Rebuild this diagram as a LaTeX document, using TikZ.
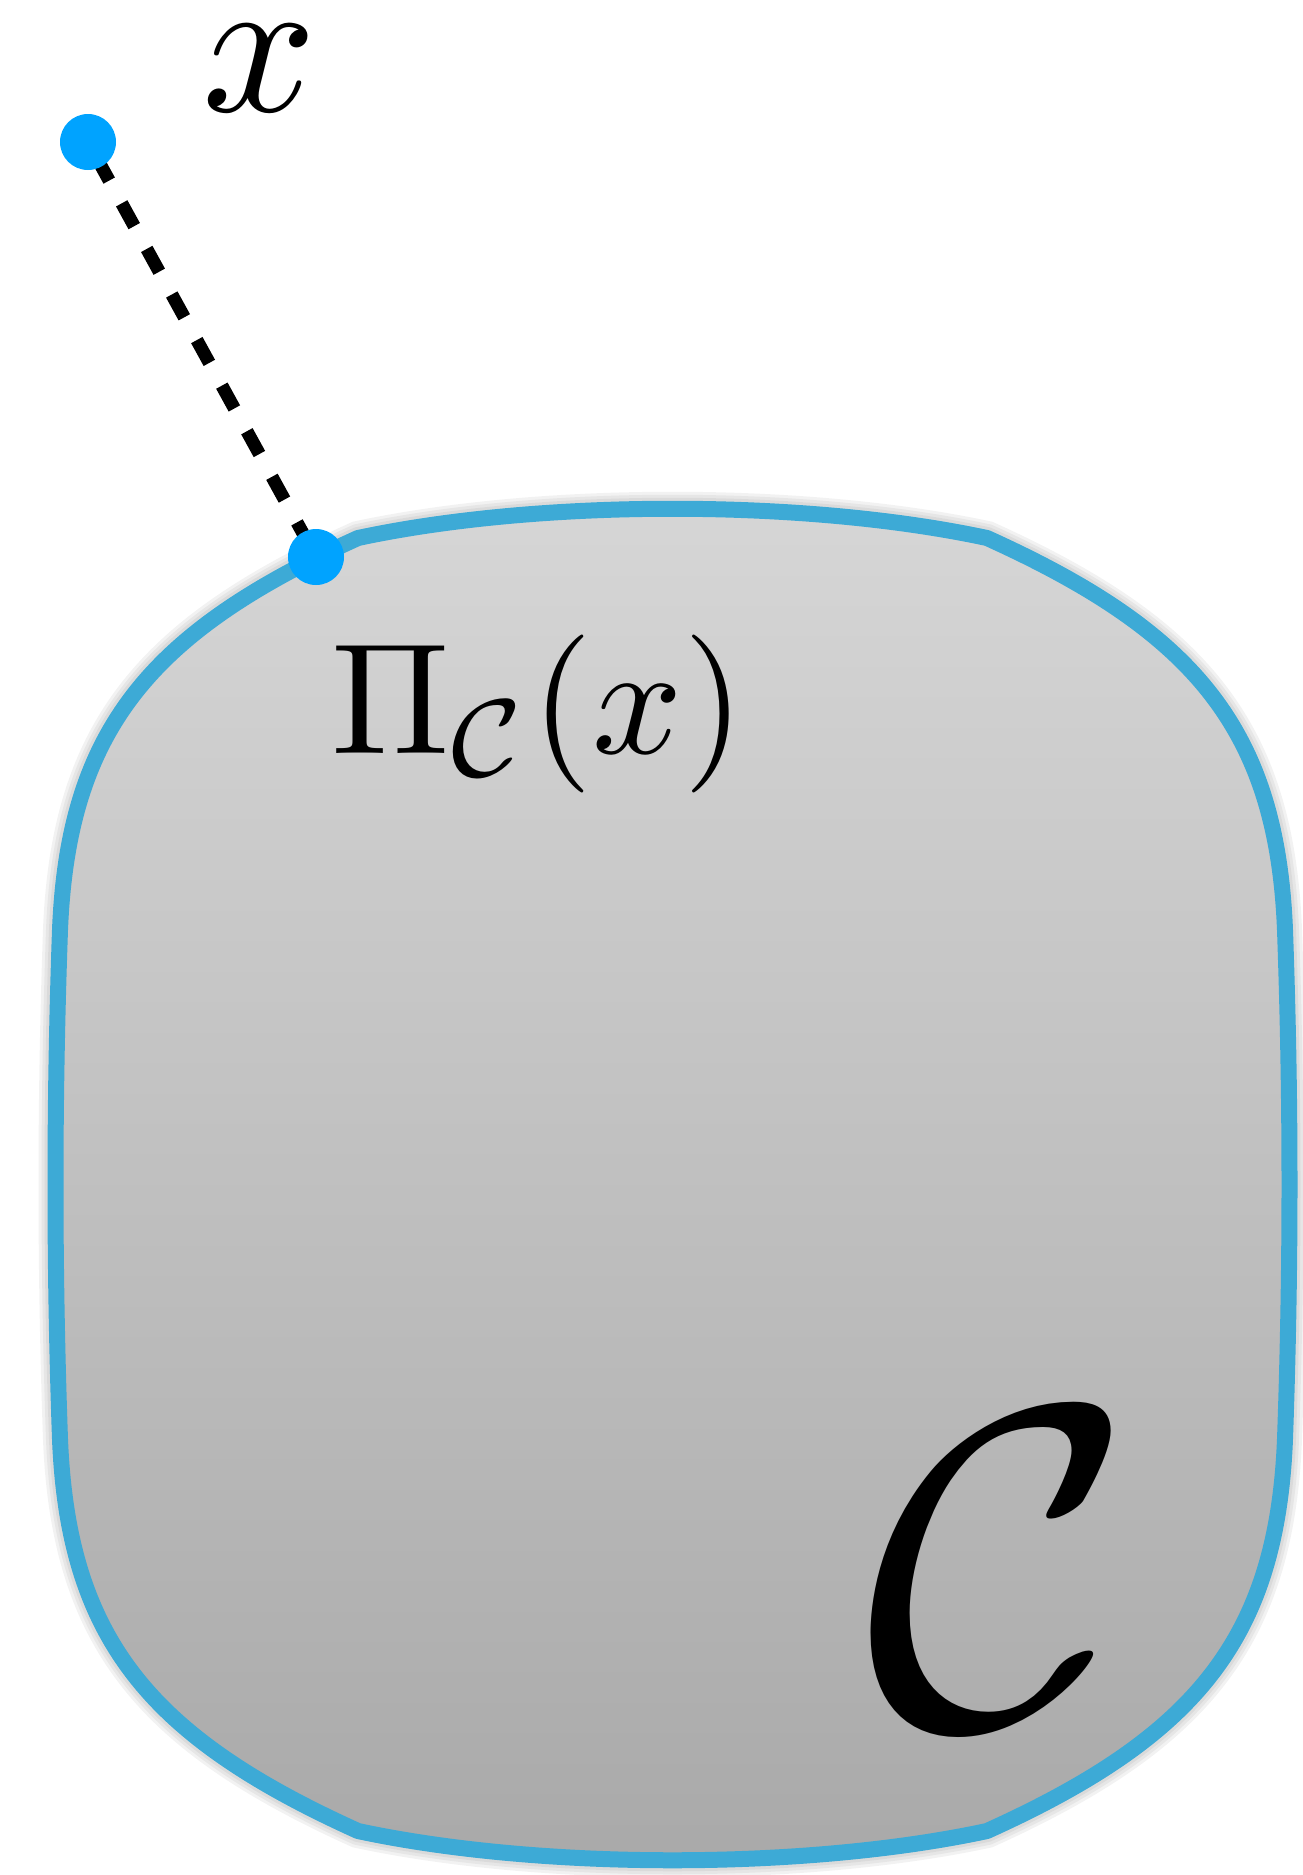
\documentclass[tikz,border=0pt]{standalone}
\definecolor{shapeblue}{RGB}{61,170,214}
\definecolor{dotblue}{RGB}{0,163,255}
\definecolor{gtop}{RGB}{214,214,214}
\definecolor{gbot}{RGB}{169,169,169}
\pgfdeclarelayer{back}
\pgfsetlayers{back,main}
\begin{document}
\begin{tikzpicture}[x=1pt,y=-1pt,
  dot/.style={circle,fill=dotblue,draw=none,minimum size=56pt,inner sep=0pt},
  lab/.style={inner sep=0pt,outer sep=0pt},
  projline/.style={line width=13pt,dash pattern=on 26pt off 26pt,dash phase=34pt},
  setline/.style={draw=shapeblue,line width=16pt,line join=round},
  glow/.style={draw=black,line width=#1,opacity=0.05}]
\useasboundingbox (0,0) rectangle (1303,1875);

\node[dot] (xpt) at (88,142) {};
\node[dot] (ppt) at (316,557) {};

\begin{pgfonlayer}{back}
\draw[preaction={glow=34pt},preaction={glow=28pt},preaction={glow=22pt},
      setline,top color=gtop,bottom color=gbot]
  (358,538)
  .. controls (540,499) and (805,499) .. (987,538)
  .. controls (1195,632) and (1277,730) .. (1285,930)
  .. controls (1291,1100) and (1291,1269) .. (1285,1439)
  .. controls (1277,1639) and (1195,1737) .. (987,1831)
  .. controls (805,1870) and (540,1870) .. (358,1831)
  .. controls (150,1737) and (68,1639) .. (60,1439)
  .. controls (54,1269) and (54,1100) .. (60,930)
  .. controls (68,730) and (150,632) .. (358,538) -- cycle;
\draw[projline] (xpt.center) -- (ppt.center);
\end{pgfonlayer}

\node[lab,scale=20,anchor=base] (xlab) at (260,111) {$x$};
\node[lab,scale=15.8,anchor=base west] (plab) at (331,753) {$\Pi_{\mathcal{C}}(x)$};
\node[lab,scale=46,anchor=base west] (clab) at (865,1726) {$\mathcal{C}$};
\end{tikzpicture}
\end{document}
